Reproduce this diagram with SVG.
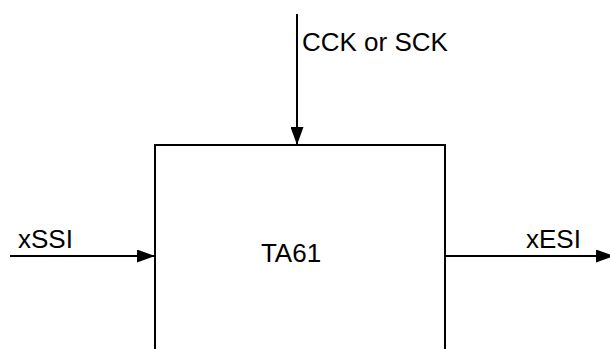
<svg xmlns="http://www.w3.org/2000/svg" width="610" height="349" viewBox="0 0 610 349">
<style>
.ln{stroke:#000;stroke-width:2;fill:none}
.t{font-family:"Liberation Sans",Arial,sans-serif;font-size:26px;fill:#000}
</style>
<defs>
<marker id="ahv" markerWidth="18" markerHeight="13" refX="18" refY="6.5" orient="auto" markerUnits="userSpaceOnUse" viewBox="0 0 18 13">
<path d="M0,0 L18,6.5 L0,13 Z" fill="#000"/>
</marker>
</defs>
<rect width="610" height="349" fill="#fff"/>
<g id="ta61">
<path class="ln" d="M155,360 V145 H445 V360"/>
<text class="t" x="291" y="262" text-anchor="middle">TA61</text>
</g>
<g id="connectors">
<line class="ln" x1="297" y1="14" x2="297" y2="145" marker-end="url(#ahv)"/>
<line class="ln" x1="10" y1="256" x2="155" y2="256" marker-end="url(#ahv)"/>
<line class="ln" x1="445" y1="256" x2="614" y2="256" marker-end="url(#ahv)"/>
<text class="t" x="302" y="51">CCK or SCK</text>
<text class="t" x="18" y="248">xSSI</text>
<text class="t" x="526" y="248">xESI</text>
</g>
</svg>
